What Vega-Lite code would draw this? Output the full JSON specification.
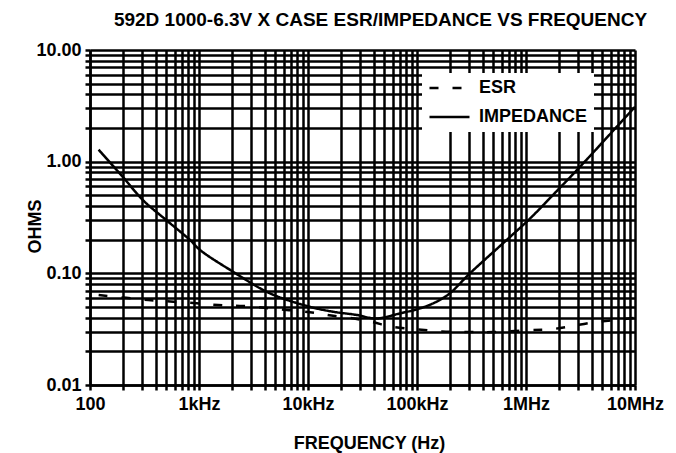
{
  "$schema": "https://vega.github.io/schema/vega-lite/v6.json",
  "width": 545,
  "height": 335,
  "autosize": {"type": "none"},
  "padding": {"left": 90, "top": 50, "right": 41, "bottom": 68},
  "background": "white",
  "title": {
    "text": "592D 1000-6.3V X CASE ESR/IMPEDANCE VS FREQUENCY",
    "font": "Liberation Sans",
    "fontSize": 19,
    "fontWeight": "bold",
    "color": "black",
    "anchor": "middle",
    "offset": 11,
    "dx": 18
  },
  "data": {
    "values": [
      {"f": 120, "v": 1.28, "series": "IMPEDANCE"},
      {"f": 200, "v": 0.73, "series": "IMPEDANCE"},
      {"f": 308, "v": 0.45, "series": "IMPEDANCE"},
      {"f": 500, "v": 0.30, "series": "IMPEDANCE"},
      {"f": 826, "v": 0.199, "series": "IMPEDANCE"},
      {"f": 1021, "v": 0.162, "series": "IMPEDANCE"},
      {"f": 2065, "v": 0.103, "series": "IMPEDANCE"},
      {"f": 4480, "v": 0.0662, "series": "IMPEDANCE"},
      {"f": 10400, "v": 0.0502, "series": "IMPEDANCE"},
      {"f": 17000, "v": 0.0453, "series": "IMPEDANCE"},
      {"f": 28000, "v": 0.0424, "series": "IMPEDANCE"},
      {"f": 42000, "v": 0.0394, "series": "IMPEDANCE"},
      {"f": 70000, "v": 0.0438, "series": "IMPEDANCE"},
      {"f": 107000, "v": 0.0486, "series": "IMPEDANCE"},
      {"f": 150000, "v": 0.0555, "series": "IMPEDANCE"},
      {"f": 201000, "v": 0.0665, "series": "IMPEDANCE"},
      {"f": 306000, "v": 0.1, "series": "IMPEDANCE"},
      {"f": 665000, "v": 0.199, "series": "IMPEDANCE"},
      {"f": 1090000, "v": 0.31, "series": "IMPEDANCE"},
      {"f": 2000000, "v": 0.57, "series": "IMPEDANCE"},
      {"f": 3130000, "v": 0.9, "series": "IMPEDANCE"},
      {"f": 10000000, "v": 3.1, "series": "IMPEDANCE"},
      {"f": 120, "v": 0.064, "series": "ESR"},
      {"f": 343, "v": 0.0577, "series": "ESR"},
      {"f": 580, "v": 0.0557, "series": "ESR"},
      {"f": 952, "v": 0.0539, "series": "ESR"},
      {"f": 1670, "v": 0.0517, "series": "ESR"},
      {"f": 2550, "v": 0.051, "series": "ESR"},
      {"f": 5000, "v": 0.048, "series": "ESR"},
      {"f": 10400, "v": 0.0448, "series": "ESR"},
      {"f": 17000, "v": 0.0417, "series": "ESR"},
      {"f": 28000, "v": 0.039, "series": "ESR"},
      {"f": 40000, "v": 0.0364, "series": "ESR"},
      {"f": 58000, "v": 0.0333, "series": "ESR"},
      {"f": 100000, "v": 0.0315, "series": "ESR"},
      {"f": 169000, "v": 0.0302, "series": "ESR"},
      {"f": 300000, "v": 0.0298, "series": "ESR"},
      {"f": 500000, "v": 0.0298, "series": "ESR"},
      {"f": 1090000, "v": 0.031, "series": "ESR"},
      {"f": 1640000, "v": 0.0315, "series": "ESR"},
      {"f": 2500000, "v": 0.0333, "series": "ESR"},
      {"f": 3900000, "v": 0.0361, "series": "ESR"},
      {"f": 6300000, "v": 0.038, "series": "ESR"},
      {"f": 10000000, "v": 0.04, "series": "ESR"}
    ]
  },
  "mark": {"type": "line", "color": "black", "strokeWidth": 2.5, "interpolate": "catmull-rom", "clip": true},
  "encoding": {
    "x": {
      "field": "f",
      "type": "quantitative",
      "scale": {"type": "log", "domain": [100, 10000000], "nice": false},
      "axis": {
        "title": "FREQUENCY (Hz)",
        "titleX": 279,
        "titleY": 58,
        "titleBaseline": "middle",
        "values": [100,200,300,400,500,600,700,800,900,1000,2000,3000,4000,5000,6000,7000,8000,9000,10000,20000,30000,40000,50000,60000,70000,80000,90000,100000,200000,300000,400000,500000,600000,700000,800000,900000,1000000,2000000,3000000,4000000,5000000,6000000,7000000,8000000,9000000,10000000],
        "labelExpr": "{'100':'100','1000':'1kHz','10000':'10kHz','100000':'100kHz','1000000':'1MHz','10000000':'10MHz'}[datum.value] || ''",
        "labelPadding": 5,
        "labelFlush": false,
        "labelBound": false,
        "labelOverlap": false
      }
    },
    "y": {
      "field": "v",
      "type": "quantitative",
      "scale": {"type": "log", "domain": [0.01, 10], "nice": false},
      "axis": {
        "title": "OHMS",
        "titleX": -55,
        "titleY": 176,
        "titleBaseline": "middle",
        "values": [0.01,0.02,0.03,0.04,0.05,0.06,0.07,0.08,0.09,0.1,0.2,0.3,0.4,0.5,0.6,0.7,0.8,0.9,1,2,3,4,5,6,7,8,9,10],
        "labelExpr": "{'0.01':'0.01','0.1':'0.10','1':'1.00','10':'10.00'}[datum.value] || ''",
        "labelPadding": 4,
        "labelOverlap": false
      }
    },
    "strokeDash": {
      "field": "series",
      "type": "nominal",
      "scale": {"domain": ["ESR", "IMPEDANCE"], "range": [[9, 14], [1, 0]]},
      "legend": {
        "title": null,
        "orient": "none",
        "legendX": 332,
        "legendY": 23,
        "symbolType": "stroke",
        "symbolSize": 1600,
        "symbolStrokeWidth": 2.5,
        "symbolStrokeColor": "black",
        "labelFont": "Liberation Sans",
        "labelFontSize": 18,
        "labelFontWeight": "bold",
        "labelColor": "black",
        "labelOffset": 8,
        "fillColor": "white",
        "padding": 6,
        "clipHeight": 18,
        "rowPadding": 11
      }
    }
  },
  "config": {
    "view": {"stroke": null},
    "axis": {
      "grid": true,
      "gridColor": "black",
      "gridWidth": 2.5,
      "gridOpacity": 1,
      "domainColor": "black",
      "domainWidth": 2.5,
      "tickColor": "black",
      "tickWidth": 2.5,
      "tickSize": 5,
      "labelFont": "Liberation Sans",
      "labelFontSize": 18,
      "labelFontWeight": "bold",
      "labelColor": "black",
      "titleFont": "Liberation Sans",
      "titleFontSize": 18,
      "titleFontWeight": "bold",
      "titleColor": "black"
    }
  }
}
